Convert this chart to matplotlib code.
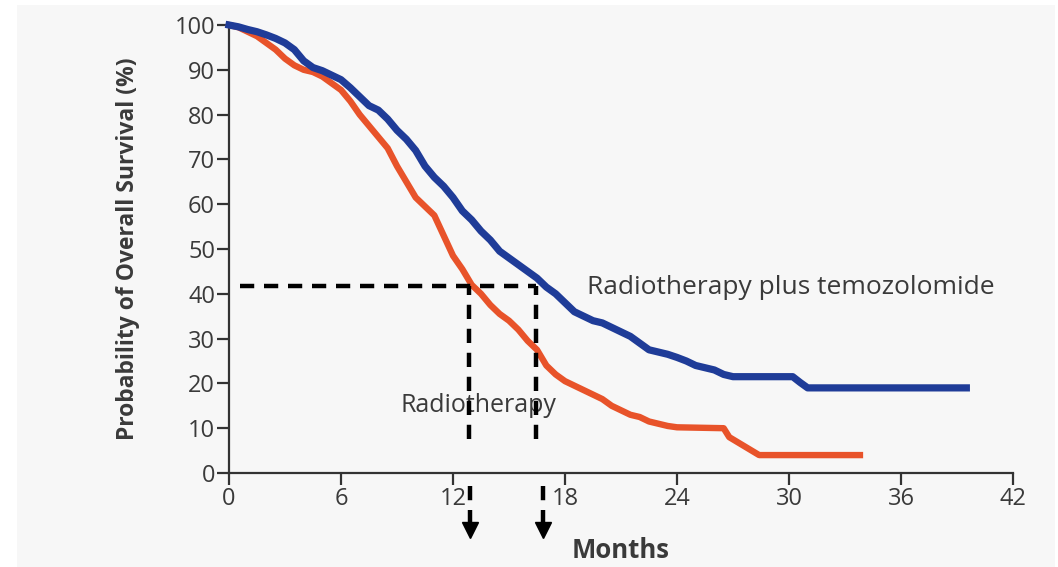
import matplotlib
import matplotlib.pyplot as plt
from matplotlib.patches import Rectangle

matplotlib.use("Agg")

# --- Data ---
tmz_months = [0, 0.5, 1, 1.5, 2, 2.5, 3, 3.5, 4, 4.5, 5, 5.5, 6, 6.5, 7, 7.5, 8, 8.5,
              9, 9.5, 10, 10.5, 11, 11.5, 12, 12.5, 13, 13.5, 14, 14.5, 15, 15.5, 16,
              16.5, 17, 17.5, 18, 18.5, 19, 19.5, 20, 20.5, 21, 21.5, 22, 22.5, 23,
              23.5, 24, 24.5, 25, 25.5, 26, 26.5, 27, 30.2, 30.6, 31.0, 39.5]
tmz_surv = [100, 99.6, 99, 98.5, 97.8, 97, 96, 94.5, 92, 90.5, 89.8, 88.8, 87.8, 86,
            84, 82, 81, 79, 76.5, 74.5, 72, 68.5, 66, 64, 61.5, 58.5, 56.5, 54, 52,
            49.5, 48, 46.5, 45, 43.5, 41.5, 40, 38, 36, 35, 34, 33.5, 32.5, 31.5,
            30.5, 29, 27.5, 27, 26.5, 25.8, 25, 24, 23.5, 23, 22, 21.5, 21.5, 20.2,
            19, 19]

rt_months = [0, 0.5, 1, 1.5, 2, 2.5, 3, 3.5, 4, 4.5, 5, 5.5, 6, 6.5, 7, 7.5, 8, 8.5,
             9, 9.5, 10, 10.5, 11, 11.5, 12, 12.5, 13, 13.5, 14, 14.5, 15, 15.5, 16,
             16.5, 17, 17.5, 18, 18.5, 19, 19.5, 20, 20.5, 21, 21.5, 22, 22.5, 23,
             23.5, 24, 26.5, 26.8, 27.2, 27.6, 28.0, 28.4, 33.8]
rt_surv = [100, 99.5, 98.5, 97.5, 96, 94.5, 92.5, 91, 90, 89.5, 88.5, 87, 85.5, 83,
           80, 77.5, 75, 72.5, 68.5, 65, 61.5, 59.5, 57.5, 53, 48.5, 45.5, 42, 40, 37.5,
           35.5, 34, 32, 29.5, 27.5, 24, 22, 20.5, 19.5, 18.5, 17.5, 16.5, 15, 14, 13,
           12.5, 11.5, 11, 10.5, 10.2, 10, 8, 7, 6, 5, 4, 4]

x_ticks = [0, 6, 12, 18, 24, 30, 36, 42]
y_ticks = [0, 10, 20, 30, 40, 50, 60, 70, 80, 90, 100]

# median-survival guide lines
median_level = 41.7
median_rt, median_tmz = 12.85, 16.45
arrow_x = [12.9, 16.8]

blue = "#1f3c98"
red = "#e8532a"
text_color = "#3a3a3a"

plt.rcParams["font.family"] = ["Open Sans", "DejaVu Sans"]

fig = plt.figure(figsize=(10.58, 5.67), dpi=100)
fig.patch.set_facecolor("white")
# light grey panel behind everything
fig.patches.append(Rectangle((17 / 1058, 0), 1 - 20 / 1058, 1 - 5 / 567,
                             transform=fig.transFigure, facecolor="#f7f7f7",
                             edgecolor="none", zorder=-10))

ax = fig.add_axes([229 / 1058, 1 - 473 / 567, (1013 - 229) / 1058, (473 - 25) / 567])
ax.set_facecolor("none")
ax.set_xlim(0, 42)
ax.set_ylim(0, 100)

ax.plot(rt_months, rt_surv, color=red, lw=4.6, zorder=3, clip_on=False)
ax.plot(tmz_months, tmz_surv, color=blue, lw=5.2, zorder=4, clip_on=False)

# dashed guides
dash = dict(color="black", lw=3.2, linestyle=(0, (3.2, 2.2)), zorder=5)
ax.plot([0.6, median_tmz], [median_level, median_level], **dash)
ax.plot([median_rt, median_rt], [7.5, median_level], **dash)
ax.plot([median_tmz, median_tmz], [7.5, median_level], **dash)
for xa in arrow_x:
    ax.plot([xa, xa], [-2.8, -11.0], clip_on=False, **dash)
    ax.plot([xa], [-12.8], marker="v", markersize=12, color="black",
            clip_on=False, zorder=5)

ax.text(19.2, 41.5, "Radiotherapy plus temozolomide", fontsize=19,
        color=text_color, va="center", ha="left")
ax.text(9.2, 15.0, "Radiotherapy", fontsize=18, color=text_color,
        va="center", ha="left")

for side in ["top", "right"]:
    ax.spines[side].set_visible(False)
for side in ["left", "bottom"]:
    ax.spines[side].set_color("#333333")
    ax.spines[side].set_linewidth(1.6)
ax.set_xticks(x_ticks)
ax.set_yticks(y_ticks)
ax.tick_params(direction="out", length=8.5, width=1.6, color="#333333",
               labelsize=17, labelcolor=text_color, pad=1.5)

ax.set_xlabel("Months", fontsize=18.5, fontweight="bold", color=text_color)
ax.xaxis.set_label_coords(0.5, -0.143)
ax.set_ylabel("Probability of Overall Survival (%)", fontsize=16.5,
              fontweight="bold", color=text_color)
ax.yaxis.set_label_coords(-0.113, 0.5)

fig.savefig("out.png", dpi=100)
